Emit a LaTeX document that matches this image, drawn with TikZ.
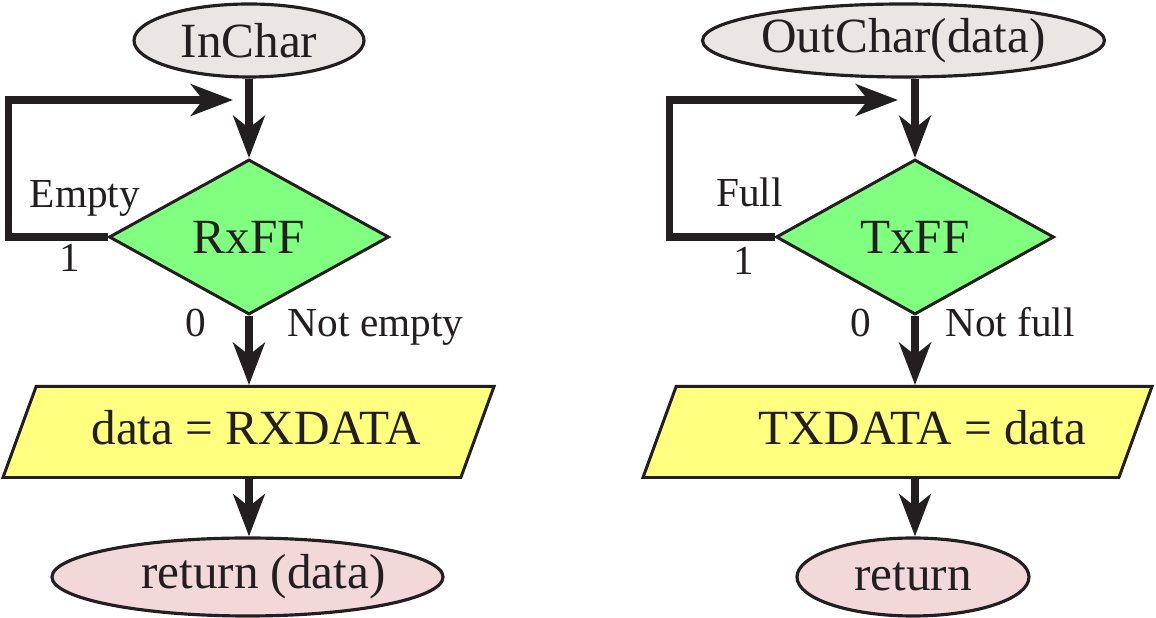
\documentclass[tikz,border=0pt]{standalone}
\usepackage{fontspec}
\setmainfont{Liberation Serif}
\usetikzlibrary{shapes,arrows.meta}
\definecolor{ink}{RGB}{35,31,32}
\definecolor{startgray}{RGB}{234,230,228}
\definecolor{endpink}{RGB}{242,216,216}
\definecolor{testgreen}{RGB}{128,255,128}
\definecolor{iofill}{RGB}{255,255,128}
\tikzstyle{term}=[ellipse,draw=ink,line width=1.8pt,inner sep=0pt,text=ink,font=\fontsize{28}{33}\selectfont]
\tikzstyle{test}=[diamond,draw=ink,fill=testgreen,line width=1.7pt,inner sep=0pt,minimum height=3.1cm,text=ink,font=\fontsize{28}{33}\selectfont]
\tikzstyle{io}=[trapezium,trapezium left angle=70,trapezium right angle=110,trapezium stretches body,draw=ink,fill=iofill,line width=1.7pt,inner xsep=0pt,inner ysep=0.46cm,text height=0.7cm,text depth=0.2cm,text=ink,font=\fontsize{28}{33}\selectfont]
\tikzstyle{lbl}=[anchor=base,text=ink,font=\fontsize{23.5}{28}\selectfont]
\tikzstyle{flow}=[draw=ink,line width=4pt,-{Stealth[length=24pt,width=18pt,inset=7pt]}]

\begin{document}
\begin{tikzpicture}
\useasboundingbox (0,0) rectangle (23.12,12.36);
% InChar
\node[term,fill=startgray,minimum width=4.6cm,minimum height=1.46cm] (inchar) at (4.98,11.55) {InChar};
\node[test,minimum width=5.6cm] (rxff) at (4.98,7.62) {RxFF};
\node[io,minimum width=9.82cm] (rxdata) at (4.97,3.72) {\hspace*{0.32cm}data = RXDATA};
\node[term,fill=endpink,minimum width=7.58cm,minimum height=1.56cm] (rxret) at (4.95,0.82) {\hspace*{0.64cm}return (data)};
\coordinate (rxjoin) at (4.66,10.36);
\node[lbl] (rxempty) at (1.70,8.20) {Empty};
\node[lbl] (rxone) at (1.40,6.92) {1};
\node[lbl] (rxzero) at (3.92,5.62) {0};
\node[lbl] (rxnotempty) at (7.51,5.62) {Not empty};
\draw[flow] (rxff.north |- inchar.south) -- (rxff.north);
\draw[flow] (rxff.west) -- ++(-1.98,0) |- (rxjoin);
\draw[flow] (rxff.south) -- (rxff.south |- rxdata.north);
\draw[flow] (rxff.south |- rxdata.south) -- (rxff.south |- rxret.north);
% OutChar
\node[term,fill=startgray,minimum width=7.9cm,minimum height=1.46cm] (outchar) at (18.07,11.55) {OutChar(data)};
\node[test,minimum width=5.56cm] (txff) at (18.3,7.62) {TxFF};
\node[io,minimum width=10.18cm] (txdata) at (17.95,3.72) {\hspace*{1cm}TXDATA = data};
\node[term,fill=endpink,minimum width=4.64cm,minimum height=1.56cm] (txret) at (18.26,0.82) {return};
\coordinate (txjoin) at (17.96,10.36);
\node[lbl] (txfull) at (14.99,8.22) {Full};
\node[lbl] (txone) at (14.87,6.86) {1};
\node[lbl] (txzero) at (17.22,5.62) {0};
\node[lbl] (txnotfull) at (20.20,5.62) {Not full};
\draw[flow] (txff.north |- outchar.south) -- (txff.north);
\draw[flow] (txff.west) -- ++(-2.1,0) |- (txjoin);
\draw[flow] (txff.south) -- (txff.south |- txdata.north);
\draw[flow] (txff.south |- txdata.south) -- (txff.south |- txret.north);
\end{tikzpicture}
\end{document}
